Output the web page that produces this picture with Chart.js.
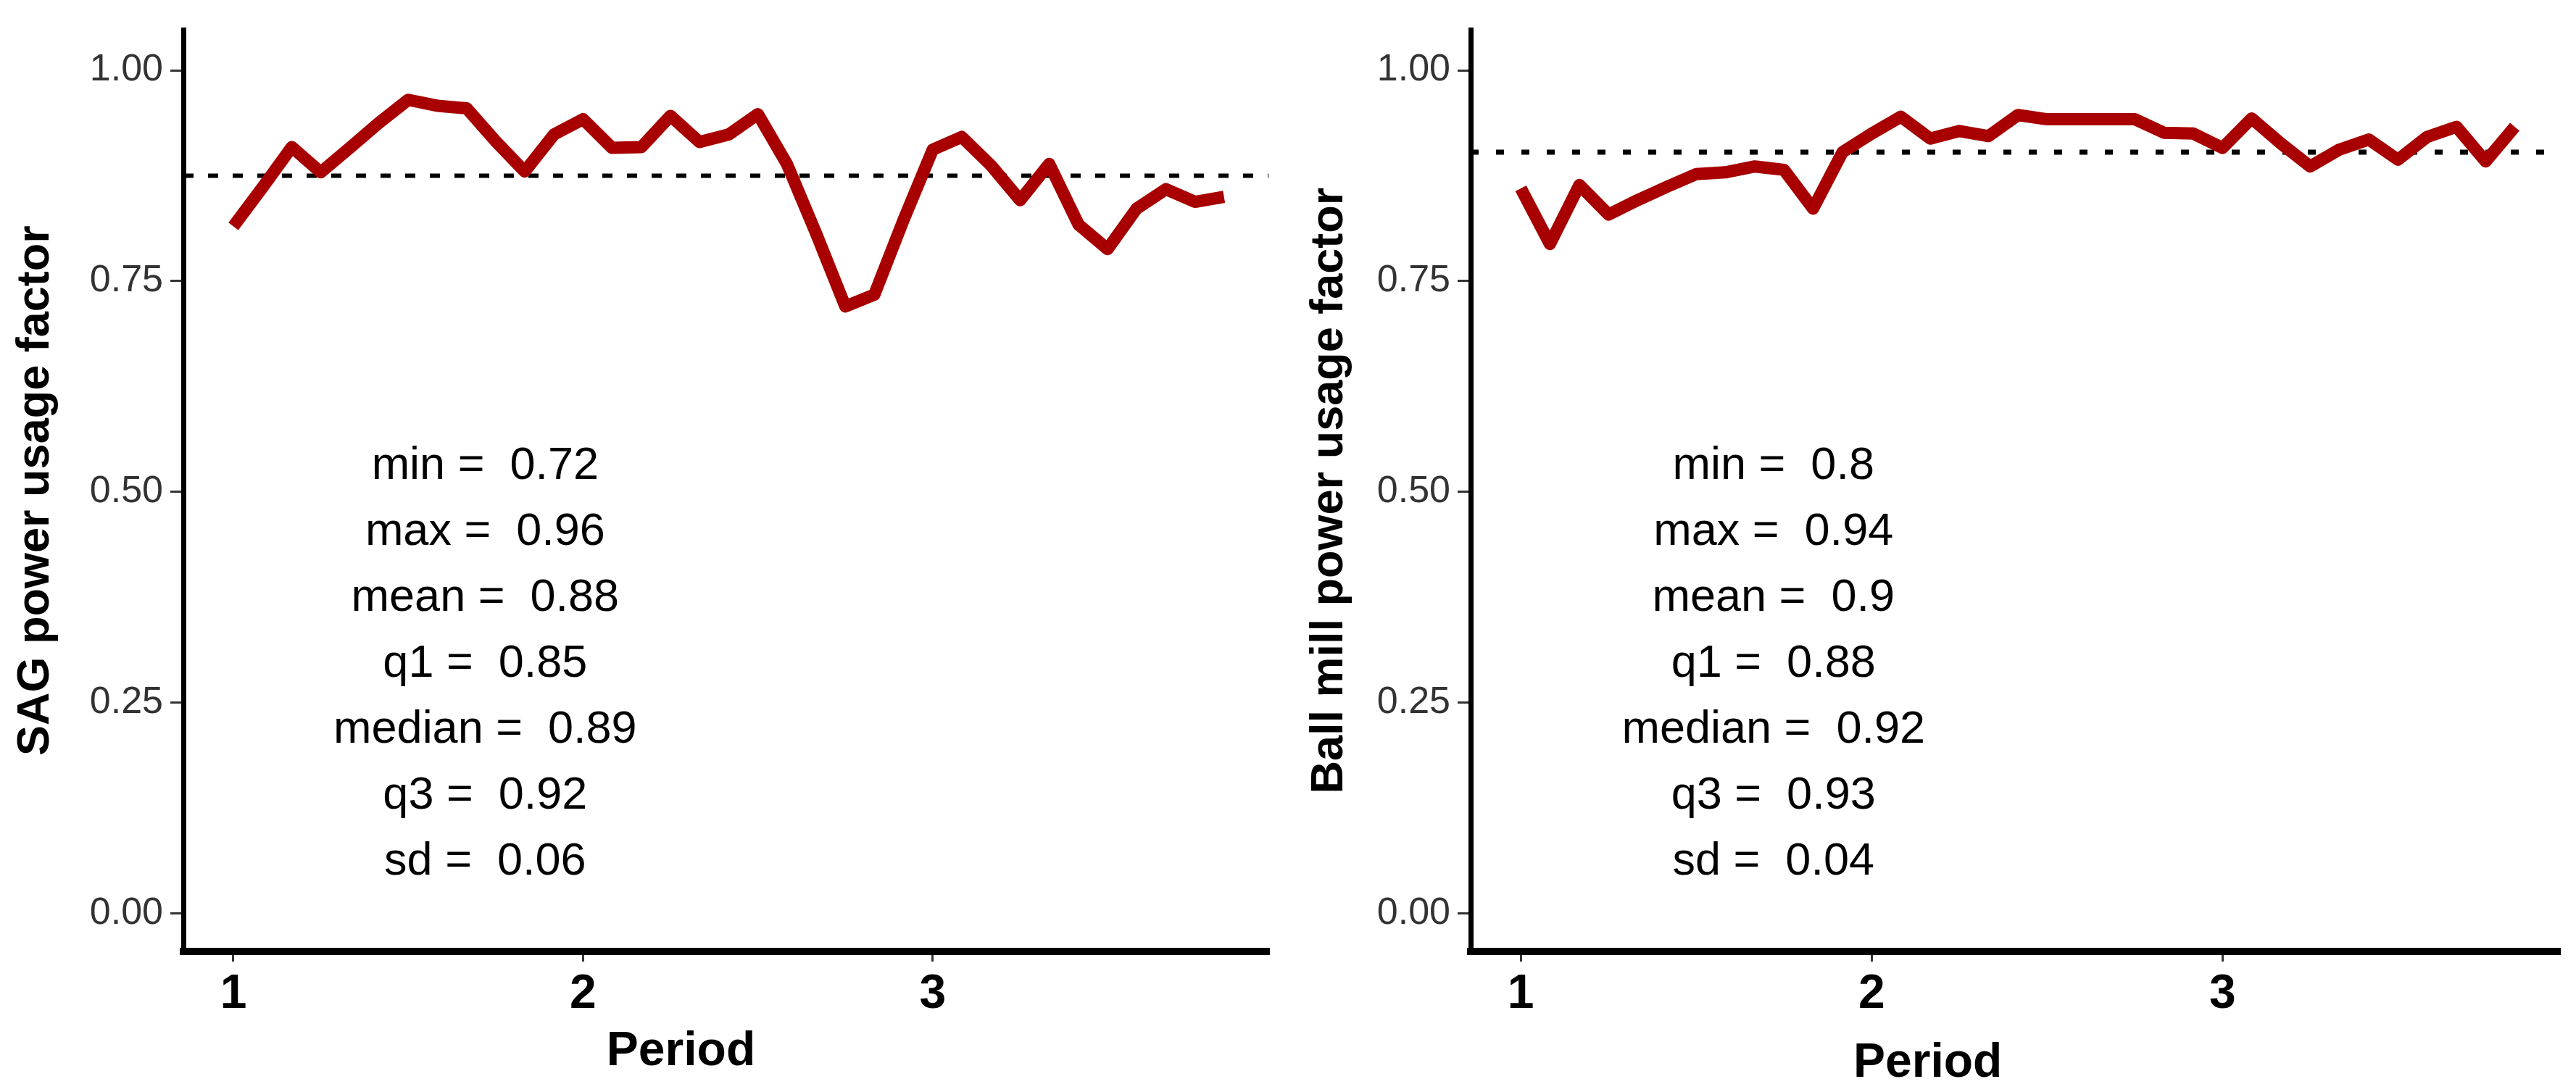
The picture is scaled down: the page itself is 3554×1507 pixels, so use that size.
<!DOCTYPE html>
<html>
<head>
<meta charset="utf-8">
<title>Power usage factor</title>
<script src="https://cdn.jsdelivr.net/npm/chart.js@4.4.1/dist/chart.umd.min.js"></script>
<style>
  html, body { margin: 0; padding: 0; background: #fff; }
  .panel { position: absolute; top: 0; height: 1507px; }
  #left { left: 0; width: 1775px; }
  #right { left: 1775px; width: 1779px; }
</style>
</head>
<body>
<div class="panel" id="left"><canvas id="sagChart" width="1775" height="1507"></canvas></div>
<div class="panel" id="right"><canvas id="ballChart" width="1779" height="1507"></canvas></div>

<script>
// monthly points, 12 per period
const period = [
  1.000, 1.083, 1.167, 1.250, 1.333, 1.417, 1.500, 1.583, 1.667, 1.750, 1.833, 1.917,
  2.000, 2.083, 2.167, 2.250, 2.333, 2.417, 2.500, 2.583, 2.667, 2.750, 2.833, 2.917,
  3.000, 3.083, 3.167, 3.250, 3.333, 3.417, 3.500, 3.583, 3.667, 3.750, 3.833,
];

const sagFactor = [
  0.815, 0.861, 0.909, 0.879, 0.908, 0.938, 0.965, 0.958, 0.955, 0.916, 0.880, 0.924,
  0.942, 0.908, 0.909, 0.946, 0.915, 0.924, 0.948, 0.889, 0.806, 0.720, 0.734, 0.823,
  0.906, 0.921, 0.887, 0.846, 0.889, 0.817, 0.788, 0.836, 0.859, 0.844, 0.850,
];

const ballFactor = [
  0.860, 0.794, 0.864, 0.829, 0.846, 0.862, 0.877, 0.879, 0.886, 0.882, 0.836, 0.903,
  0.925, 0.945, 0.919, 0.928, 0.922, 0.947, 0.942, 0.942, 0.942, 0.942, 0.926, 0.925,
  0.908, 0.943, 0.913, 0.886, 0.906, 0.918, 0.894, 0.921, 0.933, 0.892, 0.933,
];

// dotted reference lines (mean)
const sagMean = 0.875;
const ballMean = 0.903;

const statNames = ["min", "max", "mean", "q1", "median", "q3", "sd"];
const sagStats = ["0.72", "0.96", "0.88", "0.85", "0.89", "0.92", "0.06"];
const ballStats = ["0.8", "0.94", "0.9", "0.88", "0.92", "0.93", "0.04"];

const periodTicks = [1, 2, 3];
const factorTicks = [0, 0.25, 0.5, 0.75, 1];

const xRange = [0.857, 3.96];
const yRange = [-0.045, 1.048];

const FONT = '"Liberation Sans", Arial, Helvetica, sans-serif';

// draws the stats block and the x axis title
const textPlugin = {
  id: "statsText",
  afterDraw(chart, args, o) {
    const { ctx } = chart;
    const x = chart.scales.x;
    const y = chart.scales.y;
    ctx.save();
    ctx.fillStyle = "#000";
    ctx.textAlign = "center";
    ctx.textBaseline = "middle";
    ctx.font = "63px " + FONT;
    const cx = x.getPixelForValue(o.statX);
    const cy = y.getPixelForValue(o.statY);
    statNames.forEach((name, i) => {
      ctx.fillText(name + " =  " + o.values[i], cx, cy + i * 91);
    });
    ctx.font = "bold 66px " + FONT;
    ctx.fillText("Period", x.getPixelForValue(o.titleX), o.titleY);
    ctx.restore();
  },
};

function makeChart(id, values, mean, stats, yTitle, yWidth, padRight, titlePad, dash, dashWidth, titleX, titleY) {
  const ctx = document.getElementById(id).getContext("2d");
  return new Chart(ctx, {
    type: "line",
    data: {
      datasets: [
        {
          data: period.map((p, i) => ({ x: p, y: values[i] })),
          borderColor: "#a80000",
          borderWidth: 17,
          borderJoinStyle: "round",
          pointRadius: 0,
          tension: 0,
        },
        {
          data: [{ x: xRange[0], y: mean }, { x: xRange[1], y: mean }],
          borderColor: "#000",
          borderWidth: dashWidth,
          borderDash: dash,
          pointRadius: 0,
        },
      ],
    },
    options: {
      responsive: false,
      animation: false,
      devicePixelRatio: 1,
      layout: { padding: { top: 27, right: padRight, left: 0, bottom: 0 } },
      plugins: {
        legend: { display: false },
        tooltip: { enabled: false },
        statsText: { values: stats, statX: 1.72, statY: 0.53, titleX: titleX, titleY: titleY },
      },
      scales: {
        x: {
          type: "linear",
          min: xRange[0],
          max: xRange[1],
          afterFit: (s) => { s.height = 194; },
          afterBuildTicks: (s) => { s.ticks = periodTicks.map((v) => ({ value: v })); },
          ticks: {
            color: "#000",
            padding: 6,
            font: { family: FONT, size: 66, weight: "bold" },
            callback: (v) => String(v),
          },
          grid: { drawOnChartArea: false, tickLength: 14, color: "#333", lineWidth: 3 },
          border: { display: true, color: "#000", width: 10 },
        },
        y: {
          min: yRange[0],
          max: yRange[1],
          afterFit: (s) => { s.width = yWidth; },
          afterBuildTicks: (s) => { s.ticks = factorTicks.map((v) => ({ value: v })); },
          ticks: {
            color: "#333",
            padding: 10,
            font: { family: FONT, size: 52 },
            callback: (v) => v.toFixed(2),
          },
          grid: { drawOnChartArea: false, tickLength: 18, color: "#333", lineWidth: 3 },
          border: { display: true, color: "#000", width: 7 },
          title: {
            display: true,
            text: yTitle,
            color: "#000",
            padding: { top: titlePad, bottom: 0 },
            font: { family: FONT, size: 63, weight: "bold" },
          },
        },
      },
    },
    plugins: [textPlugin],
  });
}

makeChart("sagChart", sagFactor, sagMean, sagStats, "SAG power usage factor",
  253, 25, 12, [14, 20], 6, 2.28, 1452);
makeChart("ballChart", ballFactor, ballMean, ballStats, "Ball mill power usage factor",
  254, 23, 22, [11, 24], 7, 2.16, 1468);
</script>
</body>
</html>
